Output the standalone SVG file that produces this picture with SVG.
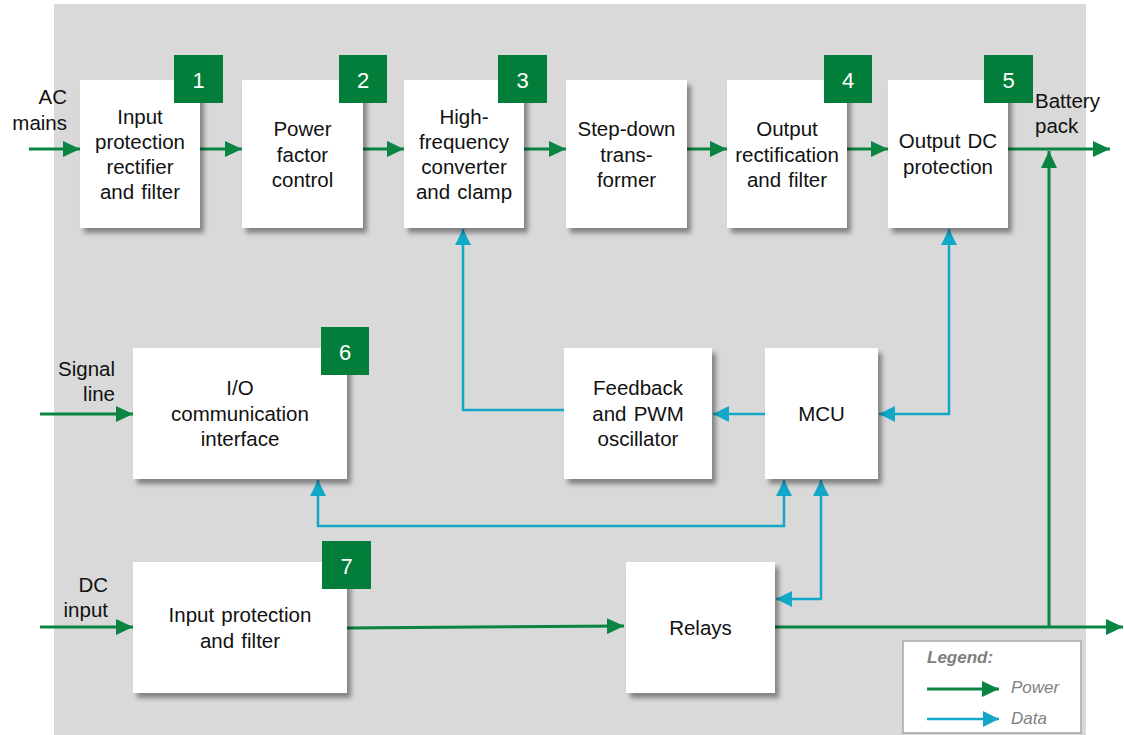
<svg xmlns="http://www.w3.org/2000/svg" width="1124" height="735" viewBox="0 0 1124 735">
<style>
.box{fill:#fff;filter:url(#sh)}
.badge{fill:#027D3A}
.bn{fill:#fff;font-family:"Liberation Sans",Arial,sans-serif;font-size:22px;text-anchor:middle}
.t{fill:#111;font-family:"Liberation Sans",Arial,sans-serif;font-size:20.5px;text-anchor:middle;word-spacing:1.5px}
.l{fill:#111;font-family:"Liberation Sans",Arial,sans-serif;font-size:20.5px}
.r{text-anchor:end}
.pw{fill:none;stroke:#0A8440;stroke-width:3}
.dt{fill:none;stroke:#12A9C9;stroke-width:2.5}
.lg{fill:#7F7F7F;font-family:"Liberation Sans",Arial,sans-serif;font-size:17px;font-style:italic}
</style>
<defs>
<filter id="sh" x="-10%" y="-10%" width="130%" height="130%">
<feDropShadow dx="4" dy="5" stdDeviation="2.5" flood-color="#000" flood-opacity="0.4"/>
</filter>
<marker id="ag" markerUnits="userSpaceOnUse" markerWidth="18" markerHeight="16" refX="17" refY="8" orient="auto-start-reverse">
<path d="M0,0 L17,8 L0,16 z" fill="#0A8440"/>
</marker>
<marker id="ac" markerUnits="userSpaceOnUse" markerWidth="17" markerHeight="16" refX="16" refY="8" orient="auto-start-reverse">
<path d="M0,0 L16,8 L0,16 z" fill="#12A9C9"/>
</marker>
</defs>
<rect x="54" y="4" width="1032" height="731" fill="#D9D9D9"/>

<g id="connectors">
<line class="pw" x1="29" y1="149" x2="80" y2="149" marker-end="url(#ag)"/>
<line class="pw" x1="200" y1="149" x2="242" y2="149" marker-end="url(#ag)"/>
<line class="pw" x1="363" y1="149" x2="404" y2="149" marker-end="url(#ag)"/>
<line class="pw" x1="524" y1="149" x2="566" y2="149" marker-end="url(#ag)"/>
<line class="pw" x1="687" y1="149" x2="727" y2="149" marker-end="url(#ag)"/>
<line class="pw" x1="847" y1="149" x2="888" y2="149" marker-end="url(#ag)"/>
<line class="pw" x1="1008" y1="149" x2="1110" y2="149" marker-end="url(#ag)"/>
<line class="pw" x1="1049" y1="627" x2="1049" y2="151" marker-end="url(#ag)"/>
<line class="pw" x1="40" y1="414" x2="133" y2="414" marker-end="url(#ag)"/>
<line class="pw" x1="40" y1="627" x2="133" y2="627" marker-end="url(#ag)"/>
<line class="pw" x1="347" y1="628" x2="624" y2="626" marker-end="url(#ag)"/>
<line class="pw" x1="775" y1="627" x2="1123" y2="627" marker-end="url(#ag)"/>
<polyline class="dt" points="564,410 463,410 463,229" marker-end="url(#ac)"/>
<line class="dt" x1="765" y1="414" x2="713" y2="414" marker-end="url(#ac)"/>
<polyline class="dt" points="879,414 949,414 949,229" marker-start="url(#ac)" marker-end="url(#ac)"/>
<polyline class="dt" points="784,480 784,526 318,526 318,480" marker-start="url(#ac)" marker-end="url(#ac)"/>
<polyline class="dt" points="821,480 821,599 776,599" marker-start="url(#ac)" marker-end="url(#ac)"/>
</g>

<g id="n1"><rect class="box" x="80" y="80" width="120" height="148"/><rect class="badge" x="174" y="55" width="49" height="48"/><text class="bn" x="198.5" y="88">1</text>
<text class="t" x="140" y="124">Input</text><text class="t" x="140" y="149">protection</text><text class="t" x="140" y="174">rectifier</text><text class="t" x="140" y="199">and filter</text></g>
<g id="n2"><rect class="box" x="242" y="80" width="121" height="148"/><rect class="badge" x="339" y="55" width="48" height="48"/><text class="bn" x="363" y="88">2</text>
<text class="t" x="302.5" y="136">Power</text><text class="t" x="302.5" y="161.5">factor</text><text class="t" x="302.5" y="187">control</text></g>
<g id="n3"><rect class="box" x="404" y="80" width="120" height="148"/><rect class="badge" x="498" y="55" width="49" height="48"/><text class="bn" x="522.5" y="88">3</text>
<text class="t" x="464" y="124">High-</text><text class="t" x="464" y="149">frequency</text><text class="t" x="464" y="174">converter</text><text class="t" x="464" y="199">and clamp</text></g>
<g id="n4"><rect class="box" x="566" y="80" width="121" height="148"/>
<text class="t" x="626.5" y="136">Step-down</text><text class="t" x="626.5" y="161.5">trans-</text><text class="t" x="626.5" y="187">former</text></g>
<g id="n5"><rect class="box" x="727" y="80" width="120" height="148"/><rect class="badge" x="824" y="55" width="48" height="48"/><text class="bn" x="848" y="88">4</text>
<text class="t" x="787" y="136">Output</text><text class="t" x="787" y="161.5">rectification</text><text class="t" x="787" y="187">and filter</text></g>
<g id="n6"><rect class="box" x="888" y="80" width="120" height="148"/><rect class="badge" x="984" y="55" width="49" height="48"/><text class="bn" x="1008.5" y="88">5</text>
<text class="t" x="948" y="148">Output DC</text><text class="t" x="948" y="174">protection</text></g>
<g id="lbl-battery"><text class="l" x="1035" y="108">Battery</text><text class="l" x="1035" y="133">pack</text></g>
<g id="lbl-ac"><text class="l r" x="67" y="104">AC</text><text class="l r" x="67" y="130">mains</text></g>
<g id="lbl-signal"><text class="l r" x="115" y="376">Signal</text><text class="l r" x="115" y="401">line</text></g>
<g id="lbl-dc"><text class="l r" x="108" y="592">DC</text><text class="l r" x="108" y="617">input</text></g>

<g id="n7"><rect class="box" x="133" y="348" width="214" height="131"/><rect class="badge" x="321" y="327" width="48" height="48"/><text class="bn" x="345" y="360">6</text>
<text class="t" x="240" y="395">I/O</text><text class="t" x="240" y="420.5">communication</text><text class="t" x="240" y="446">interface</text></g>
<g id="n8"><rect class="box" x="564" y="348" width="148" height="131"/>
<text class="t" x="638" y="395">Feedback</text><text class="t" x="638" y="420.5">and PWM</text><text class="t" x="638" y="446">oscillator</text></g>
<g id="n9"><rect class="box" x="765" y="348" width="113" height="131"/>
<text class="t" x="821.5" y="421">MCU</text></g>
<g id="n10"><rect class="box" x="133" y="562" width="214" height="131"/><rect class="badge" x="322" y="541" width="49" height="48"/><text class="bn" x="346.5" y="574">7</text>
<text class="t" x="240" y="622">Input protection</text><text class="t" x="240" y="648">and filter</text></g>
<g id="n11"><rect class="box" x="626" y="562" width="149" height="131"/>
<text class="t" x="700.5" y="635">Relays</text></g>

<g id="legend">
<rect x="903" y="641" width="178" height="92" fill="#fff" stroke="#A6A6A6" stroke-width="1.5"/>
<text class="lg" x="927" y="663" font-weight="bold">Legend:</text>
<line class="pw" x1="927" y1="689" x2="999" y2="689" marker-end="url(#ag)"/>
<text class="lg" x="1011" y="693">Power</text>
<line class="dt" x1="927" y1="719" x2="999" y2="719" marker-end="url(#ac)"/>
<text class="lg" x="1011" y="724">Data</text>
</g>
</svg>
